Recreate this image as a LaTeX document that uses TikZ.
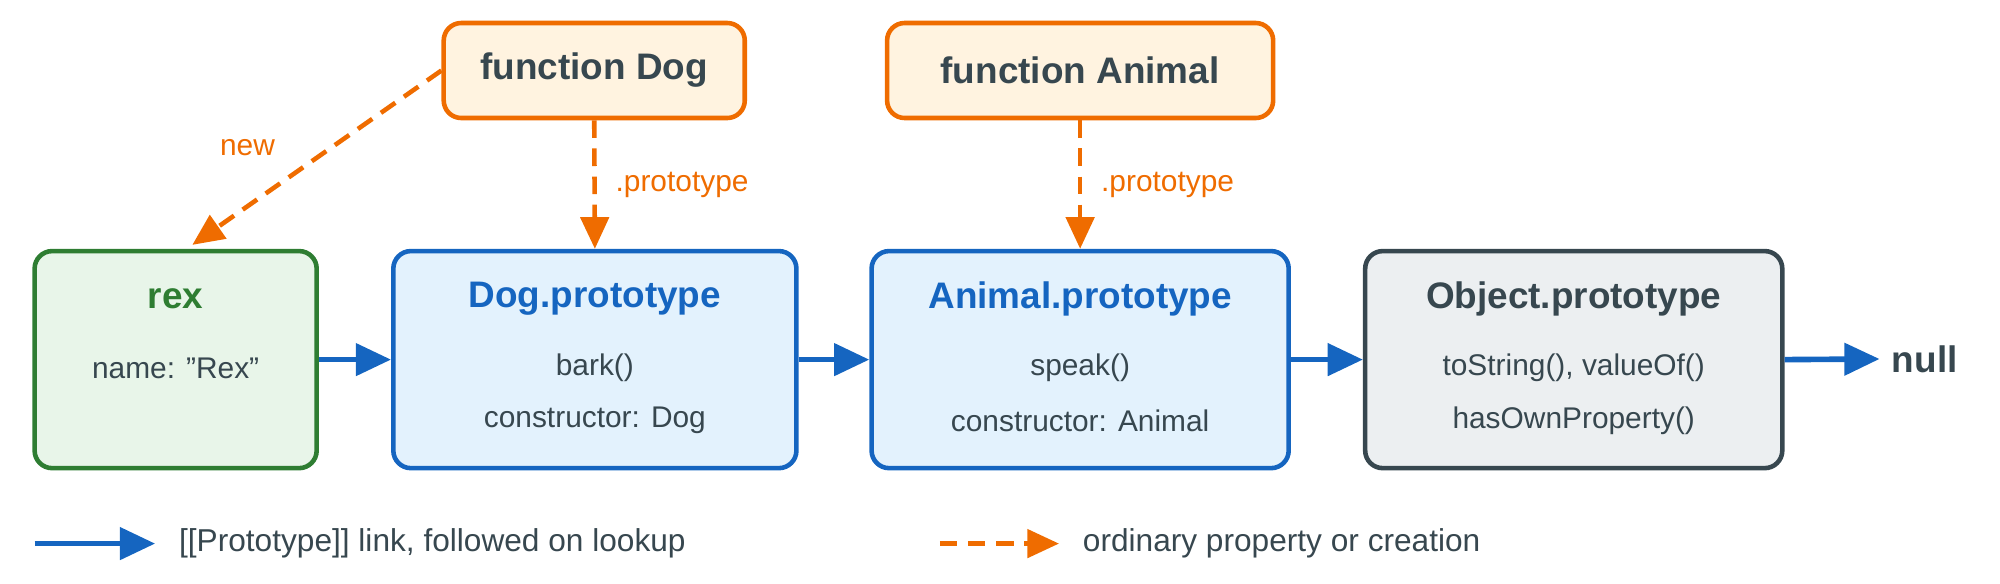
\documentclass[tikz,border=0pt]{standalone}
\usepackage{fontspec}
\setmainfont{Liberation Sans}
\usetikzlibrary{arrows.meta,positioning}
\definecolor{txt}{HTML}{37474F}
\definecolor{grnline}{HTML}{2E7D32}
\definecolor{grnfill}{HTML}{E8F5E9}
\definecolor{bluline}{HTML}{1565C0}
\definecolor{blufill}{HTML}{E3F2FD}
\definecolor{gryfill}{HTML}{ECEFF1}
\definecolor{orgline}{HTML}{EF6C00}
\definecolor{orgfill}{HTML}{FFF3E0}
\tikzset{
  box/.style={draw, line width=1.3pt, rounded corners=5pt, minimum height=2.17cm, inner sep=0pt},
  fbox/.style={draw=orgline, fill=orgfill, line width=1.3pt, rounded corners=5pt,
    minimum height=0.95cm, text=txt, font=\bfseries\fontsize{10.5}{12}\selectfont},
  title/.style={font=\bfseries\fontsize{10.5}{12}\selectfont},
  line/.style={text=txt, font=\fontsize{8.5}{10}\selectfont},
  proto/.style={draw=bluline, line width=1.6pt, -{Triangle[length=10pt,width=9pt]}},
  plain/.style={draw=orgline, line width=1.3pt, dashed, dash pattern=on 5pt off 3pt, -{Triangle[length=9pt,width=8pt]}},
  lbl/.style={text=orgline, font=\fontsize{8.5}{10}\selectfont}
}
\begin{document}
\begin{tikzpicture}[x=0.01282cm, y=-0.01282cm]
    \useasboundingbox (0,0) rectangle (1560,455);

    % prototype chain
    \node[box, draw=grnline, fill=grnfill, minimum width=2.82cm] (rex) at (137,280.5) {};
    \node[box, draw=bluline, fill=blufill, minimum width=4.03cm] (dogp) at (464,280.5) {};
    \node[box, draw=bluline, fill=blufill, minimum width=4.17cm] (animp) at (842.5,280.5) {};
    \node[box, draw=txt, fill=gryfill, minimum width=4.17cm] (objp) at (1227.5,280.5) {};

    \node[title, text=grnline] (rext) at (137,233) {rex};
    \node[line] (rex1) at (137,287) {name: "Rex"};

    \node[title, text=bluline] (dogt) at (464,233) {Dog.prototype};
    \node[line] (dog1) at (464,287) {bark()};
    \node[line] (dog2) at (464,328) {constructor: Dog};

    \node[title, text=bluline] (animt) at (842.5,233) {Animal.prototype};
    \node[line] (anim1) at (842.5,287) {speak()};
    \node[line] (anim2) at (842.5,328) {constructor: Animal};

    \node[title, text=txt] (objt) at (1227.5,233) {Object.prototype};
    \node[line] (obj1) at (1227.5,287) {toString(), valueOf()};
    \node[line] (obj2) at (1227.5,328) {hasOwnProperty()};

    \node[title, text=txt, anchor=west] (null) at (1466,280) {null};

    % constructors
    \node[fbox, minimum width=3.01cm] (fdog) at (463.5,55) {function Dog};
    \node[fbox, minimum width=3.86cm] (fanim) at (842.5,55) {function Animal};

    \draw[proto] (rex.east) -- (dogp.west);
    \draw[proto] (dogp.east) -- (animp.west);
    \draw[proto] (animp.east) -- (objp.west);
    \draw[proto] (objp.east) -- (null.west);

    \draw[plain] (fdog.south) -- (dogp.north) node[lbl, midway, right=2pt] {.prototype};
    \draw[plain] (fanim.south) -- (animp.north) node[lbl, midway, right=2pt] {.prototype};
    \draw[plain] (fdog.west) -- (150,191);
    \node[lbl] (newl) at (193,115) {new};

    % legend
    \coordinate (la) at (27,424);
    \coordinate (lb) at (121,424);
    \coordinate (lc) at (733,424);
    \coordinate (ld) at (826,424);
    \draw[proto] (la) -- (lb);
    \node[line, anchor=west, font=\fontsize{9}{11}\selectfont] (lt1) at (130,424) {[[Prototype]] link, followed on lookup};
    \draw[plain] (lc) -- (ld);
    \node[line, anchor=west, font=\fontsize{9}{11}\selectfont] (lt2) at (835,424) {ordinary property or creation};
\end{tikzpicture}
\end{document}
